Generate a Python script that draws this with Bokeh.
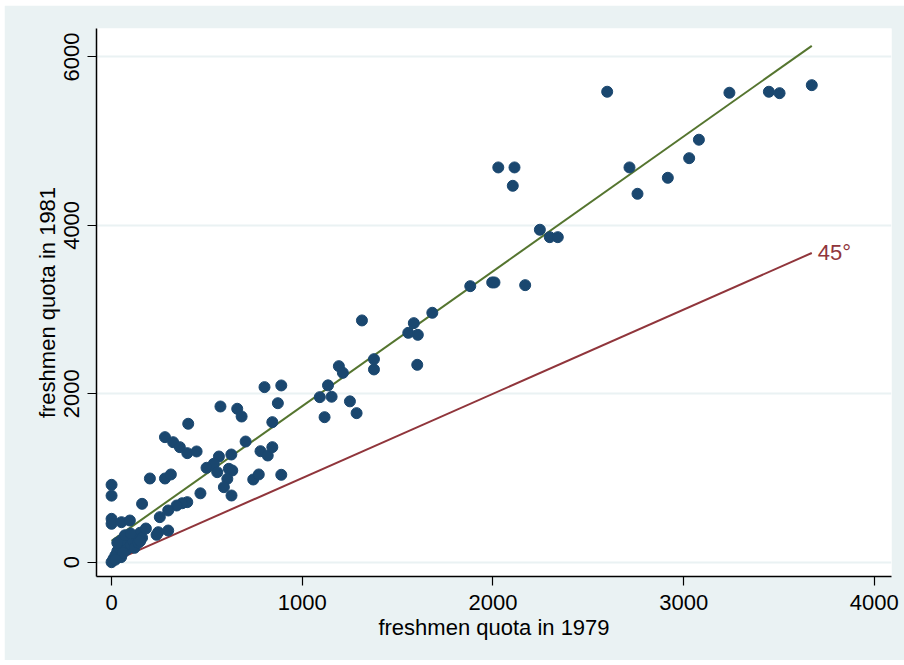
import numpy as np
from bokeh.plotting import figure
from bokeh.models import FixedTicker, Range1d, ColumnDataSource
from bokeh.embed import file_html
from bokeh.resources import INLINE
from bokeh.core.properties import value

# ---- data ----
quota_1979 = [
    2599, 3240, 3447, 3503, 3672, 2028, 2113, 2104, 3080, 3029, 2716, 2917, 2758,
    2246, 2298, 2340, 1881, 1996, 2008, 2169,
    1313, 1682, 1585, 1556, 1606, 1376, 1376, 1603, 1192, 1213, 1135, 1092, 1154,
    1250, 1285, 1117,
    802, 890, 872, 843, 571, 659, 682, 402, 280, 323, 358, 397, 446, 703, 781, 819,
    843, 628, 563, 536, 498, 554, 615, 633, 607, 589, 629, 743, 772, 890, 466, 201,
    280, 311, 0, 0, 160, 397, 370, 341, 297, 253, 297, 245, 236, 0, 0, 52, 96,
    0, 10, 20, 30, 40, 50, 60, 70, 80, 90, 100, 110, 120, 130, 140, 150, 160, 180,
    50, 70, 30, 100, 60, 20, 150,
]
quota_1981 = [
    5587, 5575, 5587, 5570, 5665, 4688, 4688, 4470, 5017, 4798, 4688, 4565, 4375,
    3948, 3860, 3860, 3278, 3322, 3322, 3290,
    2871, 2962, 2839, 2724, 2700, 2411, 2289, 2344, 2328, 2249, 2100, 1960, 1965,
    1910, 1770, 1722,
    2079, 2099, 1888, 1663, 1849, 1822, 1730, 1644, 1485, 1425, 1366, 1295, 1315,
    1433, 1318, 1267, 1366, 1279, 1255, 1169, 1121, 1069, 1109, 1089, 990, 891, 792,
    982, 1042, 1038, 818, 994, 994, 1042, 919, 790, 693, 713, 700, 673, 614, 535,
    376, 356, 325, 515, 456, 475, 495,
    0, 40, 80, 130, 170, 60, 200, 240, 150, 290, 210, 260, 170, 310, 230, 350, 290,
    400, 260, 320, 230, 340, 110, 30, 250,
]
x_ticks = [0, 1000, 2000, 3000, 4000]
y_ticks = [0, 2000, 4000, 6000]
x_title = "freshmen quota in 1979"
y_title = "freshmen quota in 1981"
diag_label = "45°"

BG = "#EAF2F3"
NAVY = "#1A476F"
MAROON = "#90353B"
GREEN = "#55752F"
FONT = "Liberation Sans"

x = np.array(quota_1979, dtype=float)
y = np.array(quota_1981, dtype=float)

# linear fit (OLS), as in the reference
slope, intercept = np.polyfit(x, y, 1)
fit_x = np.array([x.min(), x.max()])
fit_y = intercept + slope * fit_x
diag_x = np.array([0.0, x.max()])

p = figure(width=900, height=655, output_backend="svg", toolbar_location=None,
           x_range=Range1d(-79, 4090), y_range=Range1d(-170, 6338),
           min_border_left=92, min_border_right=13, min_border_top=23,
           min_border_bottom=84)
p.margin = (5, 0, 0, 4)
p.background_fill_color = "white"
p.border_fill_color = BG
p.outline_line_color = None

p.xgrid.visible = False
p.ygrid.grid_line_color = BG
p.ygrid.grid_line_width = 2
p.ygrid.ticker = FixedTicker(ticks=y_ticks)

p.xaxis.ticker = FixedTicker(ticks=x_ticks)
p.yaxis.ticker = FixedTicker(ticks=y_ticks)

for ax in (p.xaxis[0], p.yaxis[0]):
    ax.axis_line_color = "black"
    ax.axis_line_width = 1.5
    ax.major_tick_line_color = "black"
    ax.major_tick_line_width = 1.2
    ax.major_tick_in = 0
    ax.major_tick_out = 9
    ax.minor_tick_line_color = None
    ax.major_label_text_font = FONT
    ax.major_label_text_color = "black"
    ax.major_label_text_font_size = "22px"
    ax.axis_label_text_font = FONT
    ax.axis_label_text_font_style = "normal"
    ax.axis_label_text_color = "black"
    ax.axis_label_text_font_size = "22px"

p.xaxis.major_label_standoff = 9
p.xaxis.axis_label_standoff = 2
p.xaxis.axis_label = x_title

p.yaxis.major_label_orientation = "vertical"
p.yaxis.major_label_standoff = 8
p.yaxis.axis_label_standoff = 2
p.yaxis.axis_label = y_title

# 45 degree line
p.line(diag_x, diag_x, line_color=MAROON, line_width=2)
# fitted line
p.line(fit_x, fit_y, line_color=GREEN, line_width=2)
# points
src = ColumnDataSource(dict(x=x, y=y))
p.scatter("x", "y", source=src, size=11, fill_color=NAVY, line_color=NAVY)

# label for 45 degree line
p.text(x=[diag_x[-1]], y=[diag_x[-1]], text=[diag_label], x_offset=6,
       text_font=value(FONT), text_font_size="22px", text_color=MAROON,
       text_align="left", text_baseline="middle")

open("out.html", "w").write(file_html(p, INLINE))
